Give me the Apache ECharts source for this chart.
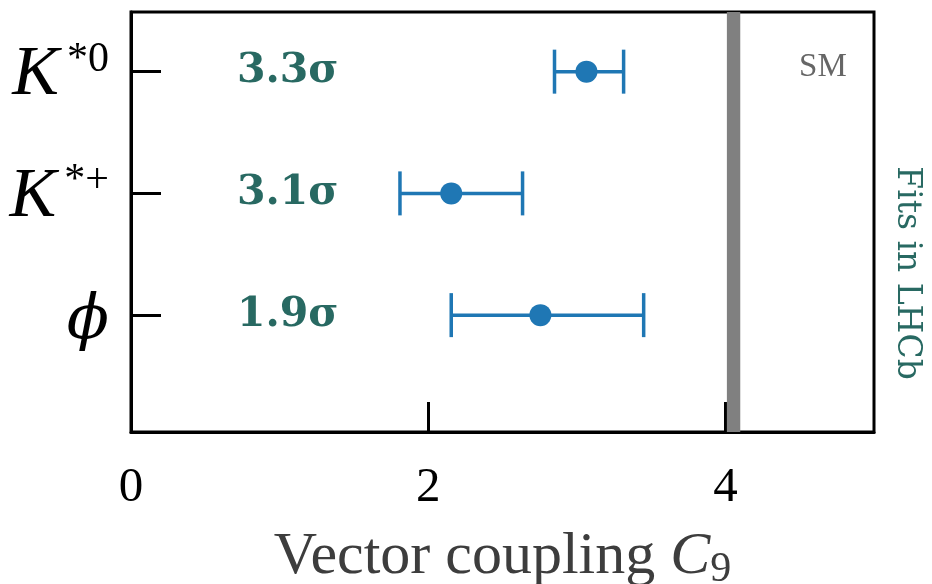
<!DOCTYPE html>
<html>
<head>
<meta charset="utf-8">
<script src="https://cdn.jsdelivr.net/npm/echarts@6/dist/echarts.min.js"></script>
<style>
  html, body { margin: 0; padding: 0; background: #fff; }
  #chart { width: 932px; height: 584px; }
</style>
</head>
<body>
<div id="chart"></div>
<script>
// Channels, listed top to bottom, with their row position on the y axis
const particleBase = ['K', 'K', 'ϕ'];
const particleSup = ['*0', '*+', ''];
const rowPos = [3, 2, 1];

// Fitted C9 values with their error bar limits
const central = [3.065, 2.155, 2.755];
const errLow = [2.85, 1.81, 2.155];
const errHigh = [3.315, 2.635, 3.45];

// Tension with the Standard Model, per channel
const significance = ['3.3σ', '3.1σ', '1.9σ'];

// Standard Model band and x tick values
const smBand = [4.01, 4.10];
const xTicks = [0, 2, 4];

const BLUE = '#1f77b4';
const TEAL = '#286962';
const SIG_X = 0.71;   // left edge of the significance labels, in C9 units
const CAP = 22;       // half height of the error bar caps, px

const chart = echarts.init(document.getElementById('chart'), null, { renderer: 'canvas' });

const labelRich = {
  base: { fontFamily: 'Liberation Serif', fontStyle: 'italic', fontSize: 70, color: '#000', padding: [8, 0, 0, 0] },
  phi: { fontFamily: 'DejaVu Serif', fontStyle: 'italic', fontSize: 62, color: '#000', padding: [14, 0, 0, 0] },
  sup: { fontFamily: 'Liberation Serif', fontSize: 42, color: '#000', padding: [0, 0, 24, 8] }
};

const option = {
  animation: false,
  backgroundColor: '#fff',
  grid: {
    left: 131, right: 58, top: 12, bottom: 152,
    show: true, borderColor: '#000', borderWidth: 3,
    outerBoundsMode: 'none'
  },
  xAxis: {
    type: 'value',
    min: 0, max: 5,
    name: '{n|Vector coupling }{c|C}{s|9}',
    nameLocation: 'middle',
    nameGap: 91,
    nameTextStyle: {
      rich: {
        n: { fontFamily: 'Liberation Serif', fontSize: 60, color: '#3d3d3d' },
        c: { fontFamily: 'Liberation Serif', fontStyle: 'italic', fontSize: 60, color: '#3d3d3d' },
        s: { fontFamily: 'Liberation Serif', fontSize: 42, color: '#3d3d3d', padding: [26, 0, 0, 0] }
      }
    },
    axisLine: { show: true, lineStyle: { color: '#000', width: 3 } },
    axisTick: { show: true, inside: true, length: 30, customValues: xTicks, lineStyle: { color: '#000', width: 3 } },
    axisLabel: {
      customValues: xTicks,
      margin: 32,
      fontFamily: 'Liberation Serif', fontSize: 49, color: '#000'
    },
    splitLine: { show: false }
  },
  yAxis: {
    type: 'value',
    min: 0.04, max: 3.49,
    axisLine: { show: true, lineStyle: { color: '#000', width: 3 } },
    axisTick: { show: true, inside: true, length: 30, customValues: rowPos, lineStyle: { color: '#000', width: 3 } },
    axisLabel: {
      customValues: rowPos,
      margin: 22,
      formatter: function (v) {
        const i = rowPos.indexOf(v);
        if (i < 0) return '';
        if (particleBase[i] === 'ϕ') return '{phi|ϕ}';
        return '{base|' + particleBase[i] + '}{sup|' + particleSup[i] + '}';
      },
      rich: labelRich
    },
    splitLine: { show: false }
  },
  graphic: [
    {
      type: 'text',
      x: 907, y: 273,
      rotation: -Math.PI / 2,
      style: {
        text: 'Fits in LHCb',
        fill: TEAL,
        font: '33px "DejaVu Serif"',
        align: 'center',
        verticalAlign: 'middle'
      }
    }
  ],
  series: [
    {
      // horizontal error bars with end caps
      type: 'custom',
      z: 3,
      data: rowPos.map((r, i) => [errLow[i], errHigh[i], r]),
      encode: { x: [0, 1], y: 2 },
      renderItem: function (params, api) {
        const y = api.value(2);
        const a = api.coord([api.value(0), y]);
        const b = api.coord([api.value(1), y]);
        const st = { stroke: BLUE, lineWidth: 3.5 };
        return {
          type: 'group',
          children: [
            { type: 'line', shape: { x1: a[0], y1: a[1], x2: b[0], y2: b[1] }, style: st },
            { type: 'line', shape: { x1: a[0], y1: a[1] - CAP, x2: a[0], y2: a[1] + CAP }, style: st },
            { type: 'line', shape: { x1: b[0], y1: b[1] - CAP, x2: b[0], y2: b[1] + CAP }, style: st }
          ]
        };
      }
    },
    {
      // central values
      type: 'scatter',
      z: 4,
      symbol: 'circle',
      symbolSize: 22,
      itemStyle: { color: BLUE, opacity: 1 },
      data: rowPos.map((r, i) => [central[i], r]),
      markArea: {
        silent: true,
        itemStyle: { color: '#808080', opacity: 1 },
        label: {
          show: true,
          position: [96, 55],
          align: 'center',
          verticalAlign: 'middle',
          formatter: 'SM',
          fontFamily: 'Liberation Serif',
          fontSize: 33,
          color: '#666'
        },
        data: [[{ xAxis: smBand[0] }, { xAxis: smBand[1] }]]
      }
    },
    {
      // significance labels
      type: 'scatter',
      z: 5,
      symbolSize: 1,
      itemStyle: { color: 'rgba(0,0,0,0)', opacity: 1 },
      data: rowPos.map((r) => [SIG_X, r]),
      label: {
        show: true,
        position: 'right',
        distance: 0,
        opacity: 1,
        formatter: function (p) { return significance[p.dataIndex]; },
        fontFamily: 'DejaVu Serif',
        fontWeight: 'bold',
        fontSize: 41,
        color: TEAL
      }
    }
  ]
};

chart.setOption(option);
</script>
</body>
</html>
